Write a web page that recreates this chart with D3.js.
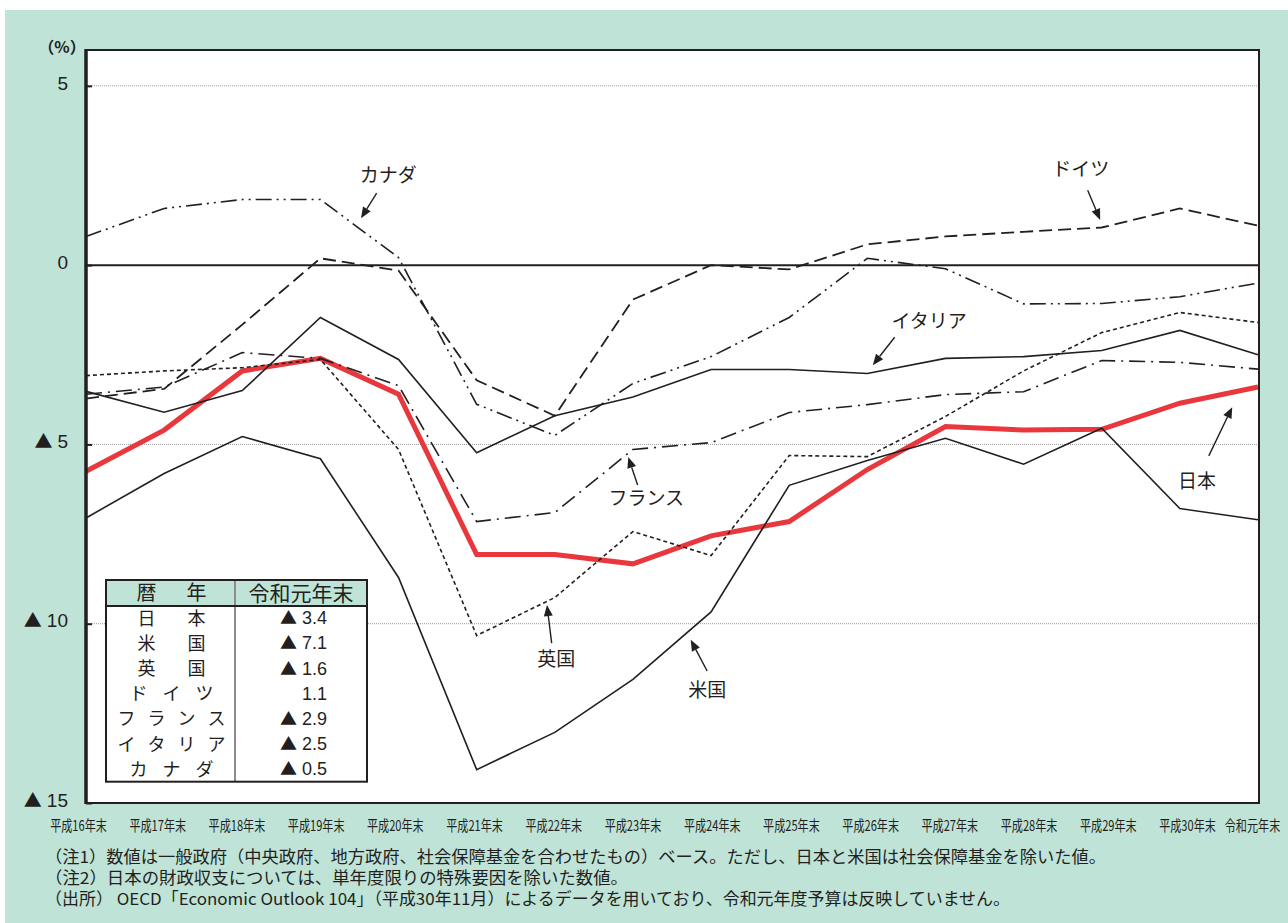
<!DOCTYPE html>
<html>
<head>
<meta charset="utf-8">
<script src="https://cdn.jsdelivr.net/npm/d3@7"></script>
<style>
  html, body { margin: 0; padding: 0; background: #ffffff; }
  svg { display: block; }
  text { font-family: "Noto Sans CJK JP", "Liberation Sans", sans-serif; fill: #231f20; }
  .num { font-family: "Liberation Sans", "Noto Sans CJK JP", sans-serif; }
  .tri { font-family: "Noto Sans CJK JP", sans-serif; }
</style>
</head>
<body>
<svg id="chart" width="1288" height="923"></svg>
<script>
// 一般政府財政収支（対GDP比, %）
const categories = ["平成16年末", "平成17年末", "平成18年末", "平成19年末", "平成20年末", "平成21年末",
  "平成22年末", "平成23年末", "平成24年末", "平成25年末", "平成26年末", "平成27年末",
  "平成28年末", "平成29年末", "平成30年末", "令和元年末"];

const japan   = [-5.75, -4.6, -2.95, -2.6, -3.6, -8.07, -8.07, -8.33, -7.55, -7.15, -5.7, -4.5, -4.6, -4.58, -3.85, -3.4];
const usa     = [-7.05, -5.81, -4.78, -5.4, -8.71, -14.07, -13.03, -11.55, -9.67, -6.14, -5.45, -4.83, -5.55, -4.55, -6.79, -7.1];
const uk      = [-3.08, -2.95, -2.86, -2.63, -5.14, -10.33, -9.27, -7.43, -8.1, -5.31, -5.34, -4.22, -2.95, -1.88, -1.32, -1.6];
const germany = [-3.72, -3.45, -1.66, 0.19, -0.15, -3.21, -4.2, -0.96, 0.0, -0.12, 0.58, 0.8, 0.93, 1.05, 1.58, 1.1];
const france  = [-3.6, -3.4, -2.44, -2.6, -3.36, -7.15, -6.9, -5.14, -4.95, -4.11, -3.89, -3.61, -3.53, -2.66, -2.71, -2.9];
const italy   = [-3.52, -4.1, -3.5, -1.46, -2.63, -5.23, -4.2, -3.68, -2.91, -2.91, -3.02, -2.6, -2.55, -2.38, -1.82, -2.5];
const canada  = [0.8, 1.58, 1.83, 1.83, 0.21, -3.88, -4.75, -3.3, -2.55, -1.46, 0.19, -0.1, -1.08, -1.07, -0.88, -0.5];

const yTicks = [5, 0, -5, -10, -15];

// 系列の描画順（日本を最背面に）
const series = [
  { name: "日本",     values: japan,   color: "#e8383d", width: 5,   dash: null },
  { name: "米国",     values: usa,     color: "#231f20", width: 1.6, dash: null },
  { name: "英国",     values: uk,      color: "#231f20", width: 1.6, dash: "4,3" },
  { name: "ドイツ",   values: germany, color: "#231f20", width: 1.8, dash: "13,6" },
  { name: "フランス", values: france,  color: "#231f20", width: 1.6, dash: "16,6,2,6" },
  { name: "イタリア", values: italy,   color: "#231f20", width: 1.6, dash: null },
  { name: "カナダ",   values: canada,  color: "#231f20", width: 1.6, dash: "16,5,2,5,2,5" }
];

// 系列ラベルと矢印（x: 年次インデックス, y: %）
const annotations = [
  { text: "カナダ",   at: [3.87, 2.50],   from: [3.72, 2.01],   to: [3.52, 1.31] },
  { text: "ドイツ",   at: [12.73, 2.68],  from: [12.82, 2.09],  to: [12.98, 1.26] },
  { text: "イタリア", at: [10.79, -1.55], from: [10.35, -2.01], to: [10.07, -2.79] },
  { text: "フランス", at: [7.17, -6.49],  from: [7.06, -6.13],  to: [6.94, -5.35] },
  { text: "日本",     at: [14.22, -6.02], from: [14.37, -5.32], to: [14.67, -3.96] },
  { text: "英国",     at: [6.02, -11.0],  from: [5.96, -10.54], to: [5.90, -9.48] },
  { text: "米国",     at: [7.95, -11.85], from: [7.95, -11.32], to: [7.74, -10.45] }
];

const notes = [
  "（注1）数値は一般政府（中央政府、地方政府、社会保障基金を合わせたもの）ベース。ただし、日本と米国は社会保障基金を除いた値。",
  "（注2）日本の財政収支については、単年度限りの特殊要因を除いた数値。",
  "（出所） OECD「Economic Outlook 104」（平成30年11月）によるデータを用いており、令和元年度予算は反映していません。"
];
const noteWidths = [1061, 583, 965];

const W = 1288, H = 923;
const bg = "#bfe3d7";
const svg = d3.select("#chart");

// 背景
svg.append("rect").attr("x", 0).attr("y", 0).attr("width", W).attr("height", H).attr("fill", "#ffffff");
svg.append("rect").attr("x", 5).attr("y", 10).attr("width", W - 5).attr("height", H - 10).attr("fill", bg);

const plot = { left: 86, right: 1258, top: 50, bottom: 803 };

const x = d3.scalePoint().domain(categories).range([plot.left, plot.right]);
const y = d3.scaleLinear().domain([-15, 6]).range([plot.bottom, plot.top]);
const xi = i => plot.left + i * x.step();

// ▲付きの数値を描く（負値は▲表記）
function triText(sel, v, triSize, numSize, gap) {
  sel.text(null);
  if (v < 0) {
    sel.append("tspan").attr("class", "tri").style("font-size", triSize + "px").text("▲");
    sel.append("tspan").attr("class", "num").attr("dx", gap).style("font-size", numSize + "px").text(Math.abs(v).toFixed(1).replace(/\.0$/, ""));
  } else {
    sel.append("tspan").attr("class", "num").style("font-size", numSize + "px").text(String(v));
  }
}

// プロット領域
svg.append("rect")
  .attr("x", plot.left).attr("y", plot.top)
  .attr("width", plot.right - plot.left + 1).attr("height", plot.bottom - plot.top)
  .attr("fill", "#ffffff");

// 目盛線
svg.append("g").selectAll("line")
  .data(yTicks.filter(v => v !== 0 && v !== -15))
  .join("line")
  .attr("x1", plot.left).attr("x2", plot.right + 1)
  .attr("y1", d => y(d)).attr("y2", d => y(d))
  .attr("stroke", "#9a9a9a").attr("stroke-width", 1).attr("stroke-dasharray", "1,1");

// ゼロ線
svg.append("line")
  .attr("x1", plot.left).attr("x2", plot.right + 1)
  .attr("y1", y(0)).attr("y2", y(0))
  .attr("stroke", "#231f20").attr("stroke-width", 2);

// 折れ線
const line = d3.line().x((d, i) => x(categories[i])).y(d => y(d));
const lines = svg.append("g");
series.forEach(s => {
  lines.append("path")
    .datum(s.values)
    .attr("d", line)
    .attr("fill", "none")
    .attr("stroke", s.color)
    .attr("stroke-width", s.width)
    .attr("stroke-linejoin", "miter")
    .attr("stroke-dasharray", s.dash);
});

// 枠
svg.append("rect")
  .attr("x", plot.left).attr("y", plot.top)
  .attr("width", plot.right - plot.left + 1).attr("height", plot.bottom - plot.top)
  .attr("fill", "none").attr("stroke", "#231f20").attr("stroke-width", 2);
svg.append("line")
  .attr("x1", plot.left).attr("x2", plot.left)
  .attr("y1", plot.top - 1).attr("y2", plot.bottom + 1)
  .attr("stroke", "#231f20").attr("stroke-width", 3.5);

// Y軸
const yAxis = svg.append("g")
  .attr("transform", `translate(${plot.left},0)`)
  .call(d3.axisLeft(y).tickValues(yTicks).tickSizeInner(-6).tickSizeOuter(0).tickPadding(18));
yAxis.select(".domain").remove();
yAxis.selectAll(".tick line").attr("stroke", "#231f20").attr("stroke-width", 2);
yAxis.selectAll(".tick text")
  .attr("fill", "#231f20")
  .each(function(d) { triText(d3.select(this), d, 18, 19, 5); });

svg.append("text")
  .attr("x", 62).attr("y", 47)
  .attr("text-anchor", "middle")
  .attr("dy", "0.35em")
  .style("font-size", "16px")
  .style("font-weight", "bold")
  .text("（%）");

// X軸ラベル（長体）
const xl = d3.scalePoint().domain(categories.slice(0, -1)).range([78, 1187]);
const xAxis = svg.append("g")
  .attr("transform", `translate(0,${plot.bottom + 16})`)
  .call(d3.axisBottom(d3.scaleOrdinal().domain(categories).range(categories.map((c, i) => i < categories.length - 1 ? xl(c) : 1252)))
    .tickSize(0).tickPadding(0));
xAxis.select(".domain").remove();
xAxis.selectAll(".tick text")
  .style("font-size", "15px")
  .attr("dy", "0.8em")
  .attr("transform", "scale(0.74,1)")
  .attr("fill", "#231f20");

// 注記
svg.append("g").selectAll("text")
  .data(notes)
  .join("text")
  .attr("x", 45)
  .attr("y", (d, i) => 857 + i * 21)
  .attr("dy", "0.35em")
  .attr("textLength", (d, i) => noteWidths[i])
  .attr("lengthAdjust", "spacingAndGlyphs")
  .style("font-size", "16.5px")
  .text(d => d);

// 系列ラベル・矢印
const ann = svg.append("g");
annotations.forEach(a => {
  const x1 = xi(a.from[0]), y1 = y(a.from[1]);
  const x2 = xi(a.to[0]), y2 = y(a.to[1]);
  const ang = Math.atan2(y2 - y1, x2 - x1);
  const hl = 11, hw = 4.5;
  const bx = x2 - hl * Math.cos(ang), by = y2 - hl * Math.sin(ang);
  ann.append("line")
    .attr("x1", x1).attr("y1", y1).attr("x2", bx).attr("y2", by)
    .attr("stroke", "#231f20").attr("stroke-width", 1.4);
  ann.append("path")
    .attr("d", `M${x2},${y2}L${bx + hw * Math.sin(ang)},${by - hw * Math.cos(ang)}L${bx - hw * Math.sin(ang)},${by + hw * Math.cos(ang)}Z`)
    .attr("fill", "#231f20");
  ann.append("text")
    .attr("x", xi(a.at[0])).attr("y", y(a.at[1]))
    .attr("text-anchor", "middle").attr("dy", "0.36em")
    .style("font-size", "19px")
    .text(a.text);
});

// 凡例表（令和元年末）
const tbl = { x: 106, y: 580, w: 261, colX: 235, headH: 26, rowH: 25.1 };
const tg = svg.append("g");
const tblH = tbl.headH + tbl.rowH * series.length;
tg.append("rect").attr("x", tbl.x).attr("y", tbl.y).attr("width", tbl.w).attr("height", tblH).attr("fill", "#ffffff");
tg.append("rect").attr("x", tbl.x).attr("y", tbl.y).attr("width", tbl.w).attr("height", tbl.headH).attr("fill", bg);
tg.append("line").attr("x1", tbl.colX).attr("x2", tbl.colX).attr("y1", tbl.y).attr("y2", tbl.y + tblH)
  .attr("stroke", "#8c8c8c").attr("stroke-width", 2);
tg.append("line").attr("x1", tbl.x).attr("x2", tbl.x + tbl.w).attr("y1", tbl.y + tbl.headH).attr("y2", tbl.y + tbl.headH)
  .attr("stroke", "#231f20").attr("stroke-width", 2);
tg.append("rect").attr("x", tbl.x).attr("y", tbl.y).attr("width", tbl.w).attr("height", tblH)
  .attr("fill", "none").attr("stroke", "#231f20").attr("stroke-width", 2);

// 均等割付の文字配置
const spread = { 2: 50, 3: 33, 4: 30 };
const nameCenter = (tbl.x + tbl.colX) / 2 + 1;
function spreadText(g, str, cy, size) {
  const chars = Array.from(str);
  const gap = spread[chars.length] || 30;
  chars.forEach((ch, k) => {
    g.append("text")
      .attr("x", nameCenter + (k - (chars.length - 1) / 2) * gap)
      .attr("y", cy).attr("dy", "0.36em")
      .attr("text-anchor", "middle")
      .style("font-size", size + "px")
      .text(ch);
  });
}
spreadText(tg, "暦年", tbl.y + tbl.headH / 2, 20);
tg.append("text")
  .attr("x", (tbl.colX + tbl.x + tbl.w) / 2).attr("y", tbl.y + tbl.headH / 2).attr("dy", "0.36em")
  .attr("text-anchor", "middle").style("font-size", "21px")
  .text(categories[categories.length - 1]);

series.forEach((s, i) => {
  const cy = tbl.y + tbl.headH + tbl.rowH * (i + 0.5);
  spreadText(tg, s.name, cy, 18);
  const v = s.values[s.values.length - 1];
  const t = tg.append("text")
    .attr("x", 327).attr("y", cy).attr("dy", "0.36em")
    .attr("text-anchor", "end");
  if (v < 0) {
    t.append("tspan").attr("class", "tri").style("font-size", "17px").text("▲");
    t.append("tspan").attr("class", "num").attr("dx", 5).style("font-size", "18px").text(Math.abs(v).toFixed(1));
  } else {
    t.append("tspan").attr("class", "num").style("font-size", "18px").text(v.toFixed(1));
  }
});
</script>
</body>
</html>
